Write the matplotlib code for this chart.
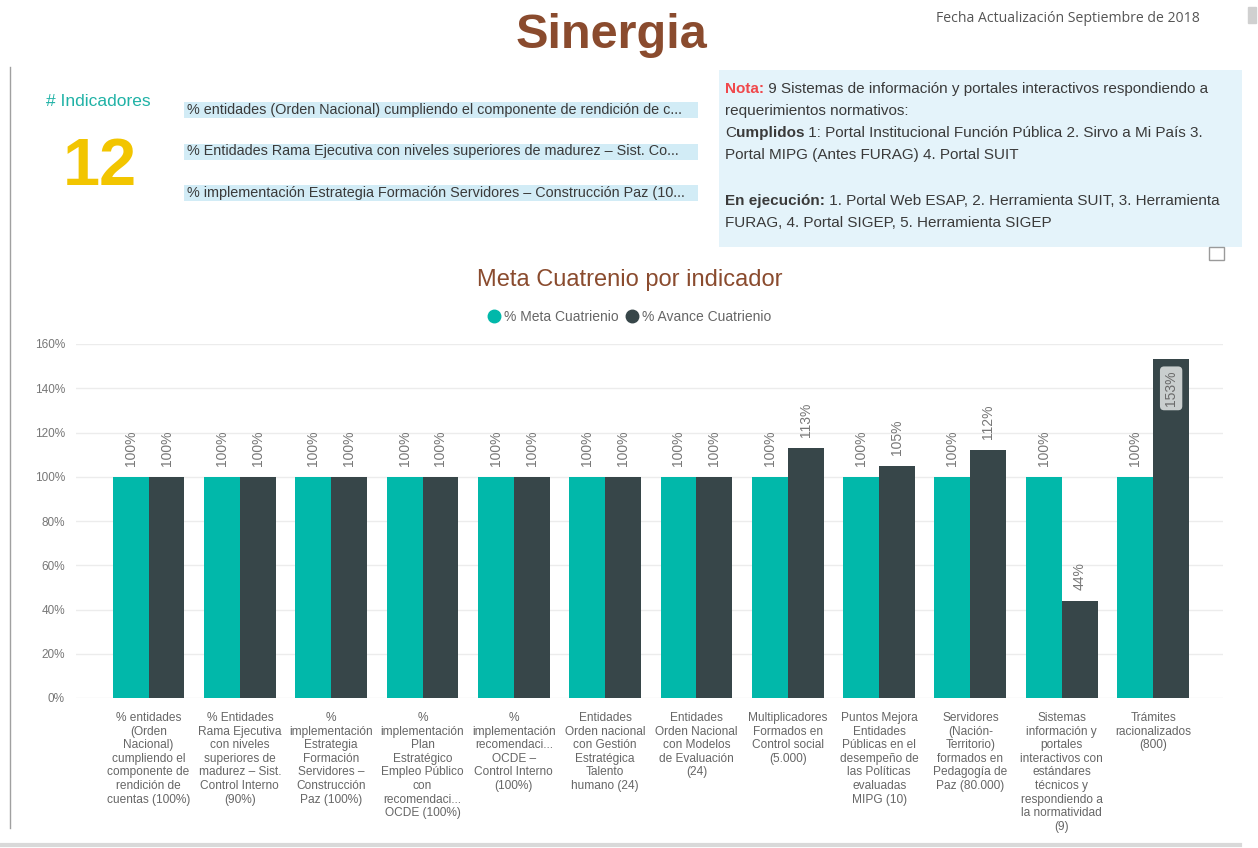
import matplotlib
matplotlib.use("Agg")
import matplotlib.pyplot as plt
from matplotlib.patches import Rectangle
from matplotlib.lines import Line2D
import numpy as np

# ---------------- data ----------------
categories = [
    "% entidades\n(Orden\nNacional)\ncumpliendo el\ncomponente de\nrendición de\ncuentas (100%)",
    "% Entidades\nRama Ejecutiva\ncon niveles\nsuperiores de\nmadurez – Sist.\nControl Interno\n(90%)",
    "%\nimplementación\nEstrategia\nFormación\nServidores –\nConstrucción\nPaz (100%)",
    "%\nimplementación\nPlan\nEstratégico\nEmpleo Público\ncon\nrecomendaci...\nOCDE (100%)",
    "%\nimplementación\nrecomendaci...\nOCDE –\nControl Interno\n(100%)",
    "Entidades\nOrden nacional\ncon Gestión\nEstratégica\nTalento\nhumano (24)",
    "Entidades\nOrden Nacional\ncon Modelos\nde Evaluación\n(24)",
    "Multiplicadores\nFormados en\nControl social\n(5.000)",
    "Puntos Mejora\nEntidades\nPúblicas en el\ndesempeño de\nlas Políticas\nevaluadas\nMIPG (10)",
    "Servidores\n(Nación-\nTerritorio)\nformados en\nPedagogía de\nPaz (80.000)",
    "Sistemas\ninformación y\nportales\ninteractivos con\nestándares\ntécnicos y\nrespondiendo a\nla normatividad\n(9)",
    "Trámites\nracionalizados\n(800)",
]
meta_cuatrienio = [100, 100, 100, 100, 100, 100, 100, 100, 100, 100, 100, 100]
avance_cuatrienio = [100, 100, 100, 100, 100, 100, 100, 113, 105, 112, 44, 153]
series_names = ["% Meta Cuatrienio", "% Avance Cuatrienio"]
y_ticks = [0, 20, 40, 60, 80, 100, 120, 140, 160]

indicator_count = "12"
indicator_list = [
    "% entidades (Orden Nacional) cumpliendo el componente de rendición de c...",
    "% Entidades Rama Ejecutiva con niveles superiores de madurez – Sist. Co...",
    "% implementación Estrategia Formación Servidores – Construcción Paz (10...",
]
note_lines = [
    [("Nota:", "#F0484B", "bold"), (" 9 Sistemas de información y portales interactivos respondiendo a", "#3a3a3a", "normal")],
    [("requerimientos normativos:", "#3a3a3a", "normal")],
    [("C", "#3a3a3a", "normal"), ("umplidos", "#3a3a3a", "bold"), (" 1: Portal Institucional Función Pública 2. Sirvo a Mi País 3.", "#3a3a3a", "normal")],
    [("Portal MIPG (Antes FURAG) 4. Portal SUIT", "#3a3a3a", "normal")],
    [("En ejecución:", "#3a3a3a", "bold"), (" 1. Portal Web ESAP, 2. Herramienta SUIT, 3. Herramienta", "#3a3a3a", "normal")],
    [("FURAG, 4. Portal SIGEP, 5. Herramienta SIGEP", "#3a3a3a", "normal")],
]

# ---------------- style ----------------
plt.rcParams["font.family"] = ["Liberation Sans", "DejaVu Sans"]

TEAL = "#01B8AA"
DARK = "#374649"
BROWN = "#8A4B2E"

W, H = 1258, 848
fig = plt.figure(figsize=(W / 100, H / 100), dpi=100)
fig.patch.set_facecolor("white")


def P(x, y):
    return (x / W, 1 - y / H)


# frame decorations
fig.add_artist(Line2D([10 / W, 10 / W], [1 - 67 / H, 1 - 828 / H], color="#a0a0a0", lw=1))
fig.add_artist(Line2D([0, 1240 / W], [1 - 845 / H, 1 - 845 / H], color="#d9d9d9", lw=3))
fig.add_artist(Rectangle(P(1248, 23), 8 / W, 16 / H, color="#d0d0d0", transform=fig.transFigure))

# header
fig.text(*P(611, 35), "Sinergia", ha="center", va="center", fontsize=35,
         fontweight="bold", color=BROWN)
fig.text(*P(1200, 18), "Fecha Actualización Septiembre de 2018", ha="right", va="center",
         fontsize=10.1, color="#555555", family=["Open Sans", "DejaVu Sans"])

# card: count
fig.text(*P(98, 101), "# Indicadores", ha="center", va="center", fontsize=12.5, color="#20B2A6")
fig.text(*P(100, 168), indicator_count, ha="center", va="center", fontsize=48,
         fontweight="bold", color="#F2C500")

# indicator list
for i, t in enumerate(indicator_list):
    yc = 110 + i * 41.5
    fig.add_artist(Rectangle(P(184, yc + 8), 514 / W, 16 / H, color="#D2ECF6",
                             transform=fig.transFigure, lw=0))
    fig.text(*P(187, yc), t, ha="left", va="center", fontsize=10.4, color="#3a3a3a")

# note box
fig.add_artist(Rectangle(P(719, 247), 523 / W, 177 / H, color="#E4F3FA",
                         transform=fig.transFigure, lw=0))
renderer = fig.canvas.get_renderer()
line_y = [89, 111, 133, 155, 201, 223]
for ly, runs in zip(line_y, note_lines):
    x = 725
    for txt, col, wt in runs:
        t = fig.text(*P(x, ly), txt, ha="left", va="center", fontsize=11, color=col,
                     fontweight=wt)
        bb = t.get_window_extent(renderer=renderer)
        x += bb.width
# expand icon
fig.add_artist(Rectangle(P(1209, 260), 15 / W, 13 / H, fill=False, ec="#9a9a9a", lw=1,
                         transform=fig.transFigure))

# chart title
fig.text(*P(630, 280), "Meta Cuatrenio por indicador", ha="center", va="center",
         fontsize=17, color=BROWN)

# ---------------- chart ----------------
ax = fig.add_axes([76 / W, 1 - 698 / H, (1223 - 76) / W, (698 - 344) / H])
x = np.arange(len(categories))
bw = 0.394
ax.bar(x - bw / 2, meta_cuatrienio, bw, color=TEAL, zorder=3, label=series_names[0])
ax.bar(x + bw / 2, avance_cuatrienio, bw, color=DARK, zorder=3, label=series_names[1])

ax.set_xlim(-0.794, 11.765)
ax.set_ylim(0, 160)
ax.set_yticks(y_ticks)
ax.set_yticklabels([f"{v}%" for v in y_ticks])
ax.tick_params(axis="y", length=0, pad=8, labelsize=8.5, labelcolor="#777777")
ax.set_xticks(x)
ax.set_xticklabels(categories, fontsize=8.6, color="#666666", linespacing=1.18, va="top")
ax.tick_params(axis="x", length=0, pad=10)
ax.grid(axis="y", color="#ececec", lw=1, zorder=0)
for s in ax.spines.values():
    s.set_visible(False)

for xi, v in zip(x - bw / 2, meta_cuatrienio):
    ax.annotate(f"{v}%", (xi, v), xytext=(0, 8), textcoords="offset points", rotation=90,
                ha="center", va="bottom", fontsize=10, color="#777777")
for xi, v in zip(x + bw / 2, avance_cuatrienio):
    if v > 150:
        ax.annotate(f"{v}%", (xi, v), xytext=(0, -8), textcoords="offset points", rotation=90,
                    ha="center", va="top", fontsize=10, color="#6a6a6a",
                    bbox=dict(boxstyle="round,pad=0.3", fc="#C9CECE", ec="none"))
    else:
        ax.annotate(f"{v}%", (xi, v), xytext=(0, 8), textcoords="offset points", rotation=90,
                    ha="center", va="bottom", fontsize=10, color="#777777")

handles = [Line2D([], [], marker="o", ls="", color=TEAL, markersize=9),
           Line2D([], [], marker="o", ls="", color=DARK, markersize=9)]
fig.legend(handles, series_names, loc="center", bbox_to_anchor=P(630, 317), ncol=2,
           frameon=False, handletextpad=0.3, columnspacing=0.6, handlelength=0.8,
           labelcolor="#666666", prop={"size": 10})

fig.savefig("out.png", dpi=100, facecolor="white")
